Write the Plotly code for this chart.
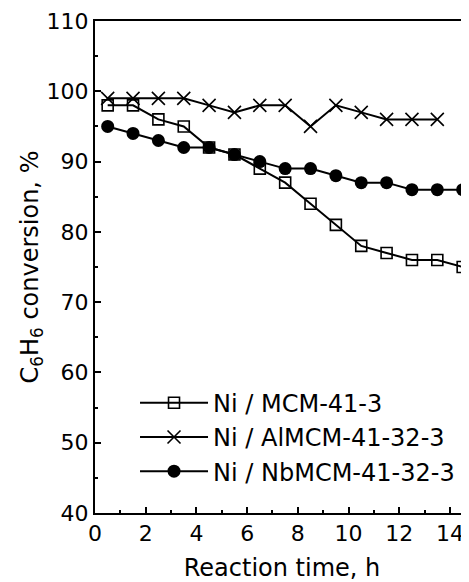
import plotly.graph_objects as go

time_h = [0.5, 1.5, 2.5, 3.5, 4.5, 5.5, 6.5, 7.5, 8.5, 9.5, 10.5, 11.5, 12.5, 13.5, 14.5]
ni_mcm = [98, 98, 96, 95, 92, 91, 89, 87, 84, 81, 78, 77, 76, 76, 75]
ni_al = [99, 99, 99, 99, 98, 97, 98, 98, 95, 98, 97, 96, 96, 96]
ni_nb = [95, 94, 93, 92, 92, 91, 90, 89, 89, 88, 87, 87, 86, 86, 86]
names = ["Ni / MCM-41-3", "Ni / AlMCM-41-32-3", "Ni / NbMCM-41-32-3"]
x_ticks = [0, 2, 4, 6, 8, 10, 12, 14]
x_minor = [1, 3, 5, 7, 9, 11, 13]
y_ticks = [40, 50, 60, 70, 80, 90, 100, 110]
y_minor = [45, 55, 65, 75, 85, 95, 105]

FONT = "DejaVu Sans, Arial, sans-serif"

fig = go.Figure()
fig.add_trace(go.Scatter(
    x=time_h, y=ni_mcm, name=names[0], mode="lines+markers", legendgroup="a",
    line=dict(color="black", width=2),
    marker=dict(symbol="square-open", size=11, color="black", line=dict(width=1.6))))
fig.add_trace(go.Scatter(
    x=time_h[:len(ni_al)], y=ni_al, name=names[1], mode="lines+markers", legendgroup="b",
    line=dict(color="black", width=2),
    marker=dict(symbol="x-thin-open", size=13, color="black", line=dict(width=1.6, color="black"))))
fig.add_trace(go.Scatter(
    x=time_h, y=ni_nb, name=names[2], mode="lines+markers", legendgroup="c",
    line=dict(color="black", width=2),
    marker=dict(symbol="circle", size=13, color="black")))

fig.update_layout(
    width=461, height=574,
    margin=dict(l=87, r=0, t=13, b=69),
    paper_bgcolor="white", plot_bgcolor="white",
    font=dict(family=FONT, size=22, color="black"),
    showlegend=True,
    legend=dict(x=0.107, y=0.269, xanchor="left", yanchor="top",
                bgcolor="rgba(0,0,0,0)", font=dict(size=24),
                itemwidth=68,
                traceorder="grouped", tracegroupgap=0),
    xaxis=dict(range=[0, 14.75], tickmode="array", tickvals=x_ticks,
               ticks="inside", ticklen=6, tickwidth=2, tickcolor="black",
               showline=True, linewidth=2, linecolor="black", mirror=True,
               showgrid=False, zeroline=False,
               minor=dict(tickvals=x_minor, ticks="inside", ticklen=3, tickwidth=2, tickcolor="black"),
               title=dict(text="Reaction time, h", font=dict(size=24), standoff=16),
               tickfont=dict(size=22)),
    yaxis=dict(range=[40, 110], tickmode="array", tickvals=y_ticks,
               ticks="inside", ticklen=6, tickwidth=2, tickcolor="black",
               showline=True, linewidth=2, linecolor="black",
               showgrid=False, zeroline=False,
               minor=dict(tickvals=y_minor, ticks="inside", ticklen=3, tickwidth=2, tickcolor="black"),
               title=dict(text="C<sub>6</sub>H<sub>6</sub> conversion, %", font=dict(size=24), standoff=1),
               tickfont=dict(size=22)),
)

fig.write_html("out.html")
